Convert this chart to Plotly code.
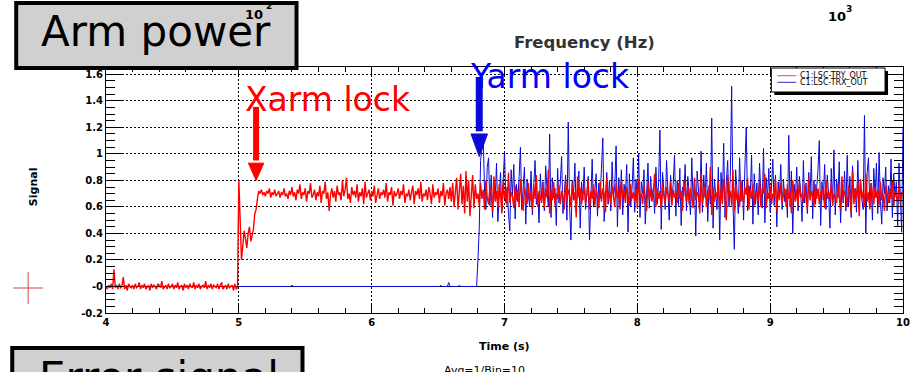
import numpy as np
import plotly.graph_objects as go

# ---- data: photodiode transmission signals (sampled every DT seconds) ----
DT = 0.01

TRY_T0 = 4.00
TRY_OUT = [
    # 4.00 - 4.99 : unlocked, around zero
    0.00, -0.02, 0.01, -0.01, 0.02, -0.02, 0.13, -0.01, 0.01, -0.02,
    0.02, -0.01, 0.00, 0.07, -0.02, 0.01, -0.03, 0.02, 0.00, -0.01,
    0.01, -0.02, 0.02, -0.01, 0.00, 0.03, -0.02, 0.01, -0.01, 0.02,
    -0.02, 0.00, 0.01, -0.03, 0.02, -0.01, 0.01, 0.00, -0.02, 0.02,
    0.01, -0.01, 0.04, -0.02, 0.00, 0.01, -0.02, 0.02, -0.01, 0.00,
    0.02, -0.02, 0.01, -0.01, 0.03, -0.02, 0.00, 0.01, -0.03, 0.02,
    -0.01, 0.01, -0.02, 0.02, 0.00, -0.01, 0.03, -0.02, 0.01, -0.01,
    0.02, -0.02, 0.00, 0.01, -0.01, 0.04, -0.02, 0.01, -0.01, 0.02,
    -0.02, 0.01, 0.00, -0.01, 0.02, -0.02, 0.01, 0.03, -0.02, 0.00,
    0.01, -0.02, 0.02, -0.01, 0.00, 0.01, -0.03, 0.02, -0.02, -0.01,
    # 5.00 - 5.15 : X arm acquiring lock
    0.80, 0.44, 0.20, 0.31, 0.42, 0.36, 0.29, 0.40, 0.45, 0.34,
    0.38, 0.43, 0.55, 0.58, 0.66, 0.72,
    # 5.16 - 6.59 : X arm locked
    0.70, 0.73, 0.69, 0.71,
    0.68, 0.72, 0.70, 0.74, 0.67, 0.71, 0.69, 0.73, 0.68, 0.70,
    0.72, 0.67, 0.71, 0.69, 0.74, 0.68, 0.70, 0.66, 0.72, 0.69,
    0.75, 0.68, 0.71, 0.65, 0.73, 0.70, 0.77, 0.66, 0.71, 0.69,
    0.74, 0.64, 0.72, 0.70, 0.78, 0.67, 0.69, 0.73, 0.65, 0.71,
    0.68, 0.76, 0.63, 0.72, 0.70, 0.79, 0.66, 0.71, 0.57, 0.69,
    0.74, 0.67, 0.72, 0.64, 0.76, 0.69, 0.71, 0.65, 0.80, 0.68,
    0.73, 0.82, 0.66, 0.70, 0.63, 0.75, 0.69, 0.72, 0.67, 0.77,
    0.64, 0.71, 0.68, 0.74, 0.62, 0.79, 0.67, 0.70, 0.73, 0.65,
    0.72, 0.68, 0.76, 0.63, 0.70, 0.74, 0.66, 0.71, 0.69, 0.73,
    0.67, 0.78, 0.64, 0.71, 0.69, 0.75, 0.61, 0.72, 0.68, 0.70,
    0.74, 0.66, 0.72, 0.69, 0.77, 0.63, 0.70, 0.68, 0.73, 0.65,
    0.71, 0.76, 0.62, 0.72, 0.69, 0.74, 0.66, 0.79, 0.64, 0.70,
    0.68, 0.73, 0.65, 0.75, 0.70, 0.62, 0.77, 0.67, 0.71, 0.69,
    0.74, 0.63, 0.72, 0.68, 0.78, 0.61, 0.70, 0.73, 0.66, 0.75,
    # 6.60 - 6.79
    0.64, 0.78, 0.60, 0.74, 0.82, 0.58, 0.71, 0.85, 0.62, 0.76,
    0.55, 0.87, 0.64, 0.80, 0.53, 0.74, 0.84, 0.59, 0.77, 0.66,
    # 6.80 - 10.00 : both arms locked
    0.70, 0.61, 0.78, 0.66, 0.73, 0.58, 0.80, 0.67, 0.62, 0.75,
    0.69, 0.57, 0.83, 0.64, 0.72, 0.60, 0.77, 0.70, 0.55, 0.79,
    0.66, 0.74, 0.61, 0.86, 0.63, 0.71, 0.68, 0.59, 0.76, 0.65,
    0.73, 0.60, 0.81, 0.67, 0.57, 0.75, 0.69, 0.62, 0.78, 0.64,
    0.71, 0.58, 0.77, 0.66, 0.84, 0.60, 0.72, 0.68, 0.63, 0.76,
    0.59, 0.74, 0.67, 0.88, 0.55, 0.73, 0.65, 0.79, 0.61, 0.70,
    0.66, 0.76, 0.62, 0.72, 0.68, 0.58, 0.81, 0.64, 0.73, 0.69,
    0.60, 0.78, 0.65, 0.71, 0.52, 0.83, 0.67, 0.74, 0.62, 0.70,
    0.75, 0.63, 0.69, 0.80, 0.58, 0.72, 0.66, 0.77, 0.61, 0.73,
    0.68, 0.59, 0.79, 0.64, 0.74, 0.70, 0.56, 0.82, 0.65, 0.71,
    0.62, 0.76, 0.69, 0.60, 0.78, 0.66, 0.73, 0.58, 0.80, 0.67,
    0.72, 0.63, 0.75, 0.69, 0.61, 0.77, 0.66, 0.71, 0.64, 0.74,
    0.59, 0.81, 0.67, 0.70, 0.62, 0.76, 0.68, 0.57, 0.79, 0.65,
    0.73, 0.64, 0.70, 0.85, 0.60, 0.74, 0.66, 0.72, 0.58, 0.77,
    0.68, 0.62, 0.75, 0.70, 0.64, 0.79, 0.61, 0.73, 0.67, 0.71,
    0.63, 0.78, 0.66, 0.72, 0.57, 0.80, 0.69, 0.64, 0.76, 0.62,
    0.74, 0.67, 0.59, 0.82, 0.65, 0.71, 0.68, 0.55, 0.86, 0.63,
    0.70, 0.76, 0.60, 0.73, 0.66, 0.90, 0.54, 0.75, 0.64, 0.71,
    0.67, 0.79, 0.58, 0.74, 0.62, 0.81, 0.69, 0.50, 0.84, 0.66,
    0.72, 0.61, 0.88, 0.57, 0.76, 0.65, 0.70, 0.60, 0.80, 0.68,
    0.63, 0.75, 0.69, 0.82, 0.58, 0.73, 0.66, 0.77, 0.61, 0.72,
    0.68, 0.64, 0.79, 0.60, 0.74, 0.70, 0.85, 0.59, 0.71, 0.66,
    0.76, 0.62, 0.70, 0.67, 0.81, 0.57, 0.73, 0.65, 0.78, 0.63,
    0.69, 0.74, 0.60, 0.77, 0.66, 0.71, 0.55, 0.80, 0.68, 0.64,
    0.73, 0.61, 0.79, 0.67, 0.70, 0.63, 0.76, 0.69, 0.58, 0.82,
    0.65, 0.72, 0.68, 0.60, 0.77, 0.66, 0.74, 0.62, 0.71, 0.69,
    0.75, 0.59, 0.80, 0.66, 0.72, 0.64, 0.78, 0.61, 0.70, 0.67,
    0.63, 0.77, 0.69, 0.58, 0.83, 0.65, 0.72, 0.68, 0.60, 0.76,
    0.70, 0.55, 0.87, 0.62, 0.74, 0.67, 0.79, 0.53, 0.81, 0.66,
    0.72, 0.60, 0.85, 0.64, 0.71, 0.58, 0.78, 0.68, 0.62, 0.75,
    0.67, 0.73, 0.61, 0.79, 0.65, 0.70, 0.57, 0.76, 0.69, 0.63,
    0.74, 0.66, 0.80, 0.60, 0.72, 0.68, 0.64, 0.77, 0.62, 0.71,
    0.69,
]

TRX_T0 = 5.00
TRX_OUT = [
    # 5.00 - 6.79 : Y arm unlocked
    0.00, 0.00, 0.00, 0.00, 0.00, 0.00, 0.00, 0.00, 0.00, 0.00,
    0.00, 0.00, 0.00, 0.00, 0.00, 0.00, 0.00, 0.00, 0.00, 0.00,
    0.00, 0.00, 0.00, 0.00, 0.00, 0.00, 0.00, 0.00, 0.00, 0.00,
    0.00, 0.00, 0.00, 0.00, 0.00, 0.00, 0.00, 0.00, 0.00, 0.00,
    0.01, 0.00, 0.00, 0.00, 0.00, 0.00, 0.00, 0.00, 0.00, 0.00,
    0.00, 0.00, 0.00, 0.00, 0.00, 0.00, 0.00, 0.00, 0.00, 0.00,
    0.00, 0.00, 0.00, 0.00, 0.00, 0.00, 0.00, 0.00, 0.00, 0.00,
    0.00, 0.00, 0.00, 0.00, 0.00, 0.00, 0.00, 0.00, 0.00, 0.00,
    0.00, 0.00, 0.00, 0.00, 0.00, 0.00, 0.00, 0.00, 0.00, 0.00,
    0.00, 0.00, 0.00, 0.00, 0.00, 0.00, 0.00, 0.00, 0.00, 0.00,
    0.00, 0.00, 0.00, 0.00, 0.00, 0.00, 0.00, 0.00, 0.00, 0.00,
    0.00, 0.00, 0.00, 0.00, 0.00, 0.00, 0.00, 0.00, 0.00, 0.00,
    0.00, 0.00, 0.00, 0.00, 0.00, 0.00, 0.00, 0.00, 0.00, 0.00,
    0.00, 0.00, 0.00, 0.00, 0.00, 0.00, 0.00, 0.00, 0.00, 0.00,
    0.00, 0.00, 0.00, 0.00, 0.00, 0.00, 0.00, 0.00, 0.00, 0.00,
    0.00, 0.00, 0.01, 0.00, 0.00, 0.00, 0.00, 0.00, 0.03, 0.00,
    0.00, 0.00, 0.00, 0.00, 0.00, 0.00, 0.01, 0.00, 0.00, 0.00,
    0.00, 0.00, 0.00, 0.00, 0.00, 0.00, 0.00, 0.00, 0.00, 0.00,
    # 6.80 - 10.00 : Y arm locked
    0.20, 0.44, 0.95, 1.04, 1.12, 0.72, 0.58, 0.90, 0.97, 0.61,
    0.84, 0.52, 0.78, 0.66, 0.93, 0.49, 0.71, 0.86, 0.57, 0.80,
    1.02, 0.63, 0.75, 0.55, 0.42, 0.88, 0.69, 0.92, 0.51, 0.77,
    0.64, 0.83, 1.05, 0.58, 0.73, 0.90, 0.47, 0.81, 0.68, 0.60,
    0.87, 0.54, 0.76, 0.95, 0.62, 0.70, 0.48, 0.85, 0.66, 0.79,
    0.57, 0.91, 0.73, 0.60, 1.15, 0.52, 0.82, 0.67, 0.74, 0.46,
    0.89, 0.63, 0.78, 0.98, 0.55, 0.71, 0.84, 0.50, 1.24, 0.61,
    0.35, 0.80, 0.69, 0.93, 0.56, 0.74, 0.87, 0.44, 0.79, 0.65,
    0.90, 0.58, 0.72, 0.83, 0.35, 0.76, 0.96, 0.60, 0.70, 0.85,
    0.53, 0.78, 0.66, 0.91, 1.12, 0.49, 0.73, 0.86, 0.62, 0.80,
    0.57, 0.94, 0.68, 0.75, 1.06, 0.45, 0.82, 0.63, 0.88, 0.54,
    0.77, 0.69, 0.92, 0.41, 0.85, 0.60, 0.73, 0.97, 0.56, 0.81,
    0.64, 1.00, 0.52, 0.79, 0.70, 0.88, 0.47, 0.76, 0.93, 0.59,
    0.83, 0.66, 0.74, 0.55, 0.90, 0.62, 0.78, 1.18, 0.43, 0.86,
    0.69, 0.58, 0.95, 0.72, 0.50, 0.84, 0.65, 0.77, 0.99, 0.53,
    0.80, 0.61, 0.89, 0.46, 0.75, 0.68, 0.92, 0.57, 0.83, 0.71,
    0.54, 0.97, 0.63, 0.79, 0.38, 0.87, 0.70, 0.60, 1.02, 0.56,
    0.84, 0.67, 0.93, 0.49, 0.76, 0.62, 1.27, 0.44, 0.81, 0.71,
    0.58, 0.90, 0.35, 0.86, 0.66, 1.08, 0.52, 0.79, 0.95, 0.60,
    0.83, 1.51, 0.63, 0.28, 0.88, 0.73, 0.55, 0.97, 0.64, 0.80,
    0.50, 0.91, 1.20, 0.57, 0.76, 0.68, 0.99, 0.47, 0.85, 0.62,
    0.78, 0.54, 0.93, 0.70, 0.59, 1.04, 0.48, 0.82, 0.66, 0.89,
    0.56, 0.75, 0.96, 0.61, 0.84, 0.45, 0.79, 0.69, 0.92, 0.58,
    0.81, 0.64, 0.73, 0.52, 1.14, 0.60, 0.87, 0.40, 0.77, 0.66,
    0.90, 0.57, 0.83, 0.71, 0.49, 0.95, 0.63, 0.78, 0.55, 0.86,
    0.68, 0.98, 0.51, 0.80, 0.62, 0.74, 0.88, 1.10, 0.46, 0.79,
    0.65, 0.92, 0.58, 0.84, 0.70, 0.44, 0.89, 0.61, 1.03, 0.54,
    0.81, 0.67, 0.94, 0.48, 0.76, 0.63, 0.87, 0.57, 0.99, 0.60,
    0.83, 0.52, 0.91, 0.69, 0.74, 0.56, 0.95, 0.62, 0.80, 0.66,
    0.58, 1.29, 0.40, 0.86, 0.97, 0.61, 0.78, 0.50, 0.89, 0.67,
    0.93, 0.55, 1.01, 0.64, 0.47, 0.82, 0.70, 0.90, 0.57, 0.76,
    0.63, 0.96, 0.52, 0.85, 0.68, 0.79, 0.45, 0.93, 0.60, 0.41,
    1.20,
]

Y_TICKS = [-0.2, 0.0, 0.2, 0.4, 0.6, 0.8, 1.0, 1.2, 1.4, 1.6]
Y_TICK_TEXT = ["-0.2", "-0", "0.2", "0.4", "0.6", "0.8", "1", "1.2", "1.4", "1.6"]
X_TICKS = [4, 5, 6, 7, 8, 9, 10]

# moments the arms acquire lock (arrow tips)
XARM_LOCK = (5.13, 0.80)
YARM_LOCK = (6.81, 0.98)

t_try = TRY_T0 + DT * np.arange(len(TRY_OUT))
t_trx = TRX_T0 + DT * np.arange(len(TRX_OUT))

W, H = 922, 372
PL, PR, PT, PB = 106, 905, 67, 313
FONT = "DejaVu Sans"
RED = "#ff0000"
BLUE = "#0a0ad8"


def px(x):
    return (x - PL) / (PR - PL)


def py(y):
    return (PB - y) / (PB - PT)


fig = go.Figure()
fig.add_trace(go.Scatter(x=t_trx, y=TRX_OUT, mode="lines", name="C1:LSC-TRX_OUT",
                         line=dict(color=BLUE, width=1.0), showlegend=False))
fig.add_trace(go.Scatter(x=t_try, y=TRY_OUT, mode="lines", name="C1:LSC-TRY_OUT",
                         line=dict(color=RED, width=1.4), showlegend=False))

shapes = []
annotations = []


def paper_rect(x0, y0, x1, y1, fill, line_color, line_width):
    shapes.append(dict(type="rect", xref="paper", yref="paper",
                       x0=px(x0), x1=px(x1), y0=py(y1), y1=py(y0),
                       fillcolor=fill, line=dict(color=line_color, width=line_width),
                       layer="above"))


def paper_line(x0, y0, x1, y1, color, width):
    shapes.append(dict(type="line", xref="paper", yref="paper",
                       x0=px(x0), x1=px(x1), y0=py(y0), y1=py(y1),
                       line=dict(color=color, width=width), layer="above"))


def label(text, x, y, size, color="black", bold=False, xanchor="center", angle=0):
    annotations.append(dict(text=text, xref="paper", yref="paper", x=px(x), y=py(y),
                            xanchor=xanchor, yanchor="middle", showarrow=False,
                            textangle=angle,
                            font=dict(family=FONT, size=size, color=color,
                                      weight="bold" if bold else "normal")))


def arrow(tip, shaft_top, head_base, half_w, color, width):
    tx, ty = tip
    shapes.append(dict(type="line", xref="x", yref="y", x0=tx, x1=tx,
                       y0=shaft_top, y1=head_base + 0.02,
                       line=dict(color=color, width=width), layer="above"))
    shapes.append(dict(type="path", xref="x", yref="y",
                       path=f"M {tx - half_w} {head_base} L {tx + half_w} {head_base} L {tx} {ty} Z",
                       fillcolor=color, line=dict(color=color, width=1), layer="above"))


# lock arrows
arrow(XARM_LOCK, 1.354, 0.93, 0.058, RED, 6)
arrow(YARM_LOCK, 1.58, 1.15, 0.062, BLUE, 7)
label("Xarm lock", 329, 99.5, 33, color=RED)
label("Yarm lock", 551, 76.5, 33, color="#0000ff")

# legend box with shadow
paper_rect(776, 71, 890, 95, "black", "black", 0)
paper_rect(773, 68, 887, 92, "white", "black", 1)
paper_line(779, 75.7, 798, 75.7, "#e05050", 1)
paper_line(779, 82.3, 798, 82.3, "#3030c0", 1)
label("C1:LSC-TRY_OUT", 800, 75.3, 8, xanchor="left")
label("C1:LSC-TRX_OUT", 800, 82.7, 8, xanchor="left")

# axis titles
label("Signal", 33, 187, 11, bold=True, angle=-90)
label("Time (s)", 505, 346.5, 11, bold=True)

# neighbouring panels' labels
label("Frequency (Hz)", 586, 42, 16.5, color="#333333", bold=True)
label("10", 839, 17, 13, bold=True)
label("3", 851, 9, 9, bold=True)
label("Avg=1/Bin=10", 485, 370, 11)

# panel title boxes
paper_rect(16, 3, 297, 68, "#d0d0d0", "black", 4)
label("Arm power", 156, 31.7, 42)
label("10", 254, 14, 13, bold=True)
label("2", 269, 6, 9, bold=True)

paper_rect(12, 348, 303, 420, "#d0d0d0", "black", 4)
label("Error signal", 159, 377, 42)

# stray marker on the left
paper_line(13, 288, 43, 288, "#d04848", 1)
paper_line(28, 272, 28, 304, "#d04848", 1)

fig.update_layout(
    width=W, height=H,
    margin=dict(l=PL, r=W - PR, t=PT, b=H - PB),
    paper_bgcolor="white", plot_bgcolor="white",
    showlegend=False,
    shapes=shapes, annotations=annotations,
    font=dict(family=FONT, color="black"),
    xaxis=dict(range=[4, 10], tickmode="array", tickvals=X_TICKS,
               ticktext=[str(v) for v in X_TICKS],
               ticks="inside", ticklen=8, tickcolor="black",
               minor=dict(dtick=0.2, tick0=4, ticks="inside", ticklen=5, tickcolor="black"),
               showline=True, linecolor="black", linewidth=1, mirror="ticks",
               showgrid=True, gridcolor="black", gridwidth=1, griddash="2px,2px",
               zeroline=False,
               tickfont=dict(family=FONT, size=10, color="black", weight="bold")),
    yaxis=dict(range=[-0.2, 1.655], tickmode="array", tickvals=Y_TICKS,
               ticktext=Y_TICK_TEXT,
               ticks="inside", ticklen=18, tickcolor="black",
               minor=dict(dtick=0.05, tick0=0, ticks="inside", ticklen=9, tickcolor="black"),
               showline=True, linecolor="black", linewidth=1, mirror="ticks",
               showgrid=True, gridcolor="black", gridwidth=1, griddash="2px,2px",
               zeroline=True, zerolinecolor="black", zerolinewidth=1,
               tickfont=dict(family=FONT, size=10, color="black", weight="bold")),
)

fig.write_html("out.html")
